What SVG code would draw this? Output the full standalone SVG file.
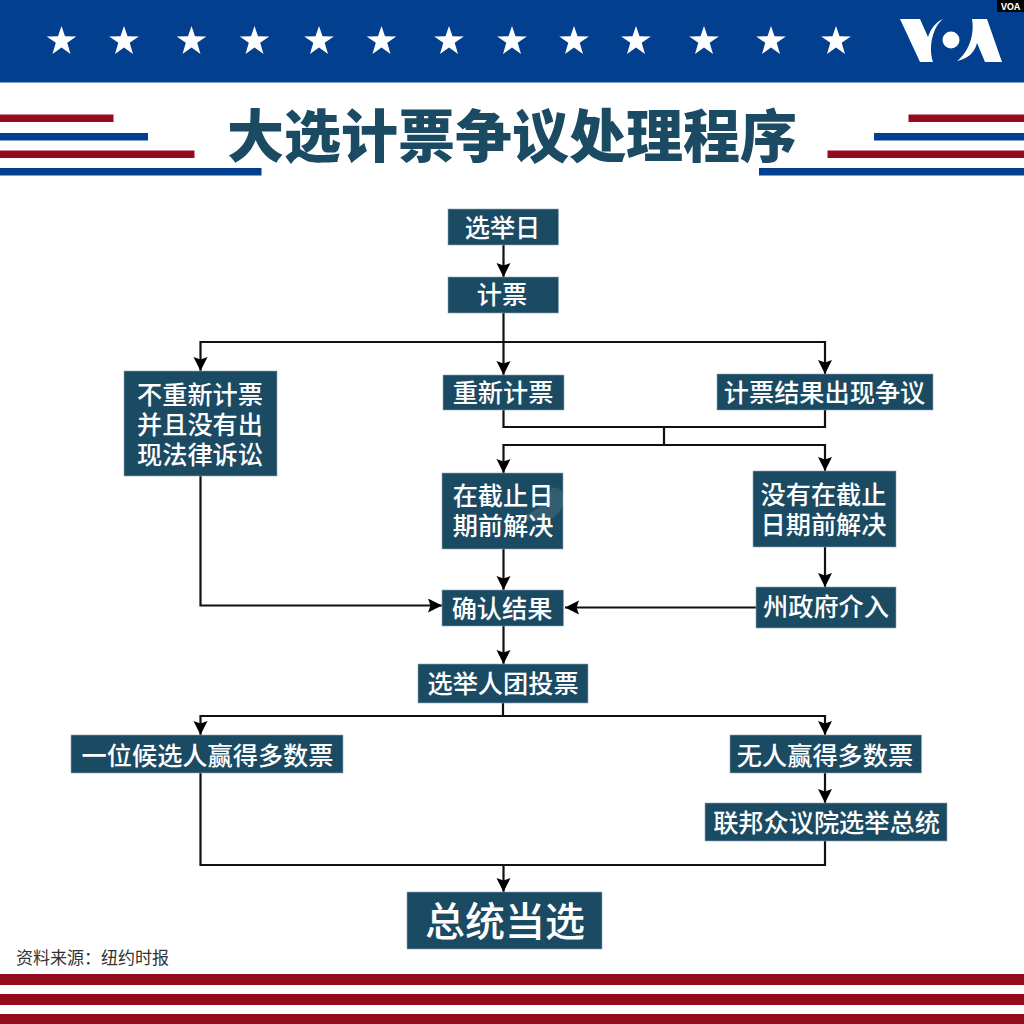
<svg xmlns="http://www.w3.org/2000/svg" width="1024" height="1024" viewBox="0 0 1024 1024">
<style>
text{font-family:"Noto Sans CJK SC","Noto Sans",sans-serif}
.box{fill:#1b4a63;stroke:#8fa9b8;stroke-width:.6}
.lbl{fill:#fff;font-size:25.200px;font-weight:500;text-anchor:middle}
.big{fill:#fff;font-size:40px;font-weight:500;text-anchor:middle}
.title{fill:#1b4a63;font-size:57px;font-weight:900;text-anchor:middle}
.red{fill:#930b1c}
.blue{fill:#023f8e}
.c{fill:none;stroke:#111;stroke-width:2.200}
.star{fill:#fff}
</style>
<defs>
<marker id="a" markerUnits="userSpaceOnUse" markerWidth="16" markerHeight="16" refX="14" refY="7" orient="auto"><path d="M0 0L14 7L0 14L2.500 7Z" fill="#000"/></marker>
<polygon id="s" points="0,-15 3.500,-4.800 14.800,-4.600 5.700,1.800 9,13 0,6.500 -9,13 -5.700,1.800 -14.800,-4.600 -3.500,-4.800"/>
</defs>
<rect width="1024" height="1024" fill="#fff"/>
<g id="header">
<rect class="blue" width="1024" height="82.500"/>
<g class="star">
<use href="#s" x="61.500" y="41"/><use href="#s" x="124" y="41"/><use href="#s" x="191.500" y="41"/><use href="#s" x="254.500" y="41"/><use href="#s" x="319" y="41"/><use href="#s" x="381.500" y="41"/><use href="#s" x="449" y="41"/><use href="#s" x="512" y="41"/><use href="#s" x="574" y="41"/><use href="#s" x="636" y="41"/><use href="#s" x="704" y="41"/><use href="#s" x="771" y="41"/><use href="#s" x="836" y="41"/>
</g>
<g fill="#fff">
<path d="M900 19H920L928 37C931 28 936 22 943 19C933 27 928 46 933 62H920Z"/>
<circle cx="951" cy="40" r="8.500"/>
<path d="M972 19H987L1002 62H985L977 43C975 52 968 59 957 61C968 53 975 35 972 19Z"/>
</g>
<rect x="997" y="0" width="27" height="12" fill="#000"/>
<text x="1010.500" y="9.500" font-size="9.500" font-weight="700" fill="#fff" text-anchor="middle">VOA</text>
</g>
<g id="stripes">
<rect class="red" x="0" y="114.500" width="113.500" height="7.500"/>
<rect class="blue" x="0" y="133" width="148" height="7.500"/>
<rect class="red" x="0" y="150.500" width="194.500" height="7.500"/>
<rect class="blue" x="0" y="168" width="261.500" height="7.500"/>
<rect class="red" x="908.500" y="114.500" width="115.500" height="7.500"/>
<rect class="blue" x="874" y="133" width="150" height="7.500"/>
<rect class="red" x="827.500" y="150.500" width="196.500" height="7.500"/>
<rect class="blue" x="759" y="168" width="265" height="7.500"/>
<rect class="red" x="0" y="974" width="1024" height="11"/>
<rect class="red" x="0" y="994" width="1024" height="11"/>
<rect class="red" x="0" y="1014" width="1024" height="10"/>
</g>
<text id="title" class="title" x="512" y="157">大选计票争议处理程序</text>
<g id="connectors">
<path class="c" marker-end="url(#a)" d="M503.500 245V277"/>
<path class="c" marker-end="url(#a)" d="M503.500 313V375"/>
<path class="c" marker-end="url(#a)" d="M503.500 342H200.500V371"/>
<path class="c" marker-end="url(#a)" d="M503.500 342H825V374"/>
<path class="c" d="M503.500 410V427H825V410M664 427V445"/>
<path class="c" marker-end="url(#a)" d="M664 445H503.500V473"/>
<path class="c" marker-end="url(#a)" d="M664 445H825V471"/>
<path class="c" marker-end="url(#a)" d="M503.500 549V590"/>
<path class="c" marker-end="url(#a)" d="M825 547V587"/>
<path class="c" marker-end="url(#a)" d="M756 607.500H565"/>
<path class="c" marker-end="url(#a)" d="M200.500 476V605.500H442"/>
<path class="c" marker-end="url(#a)" d="M503.500 626V664"/>
<path class="c" d="M503 703V716"/>
<path class="c" marker-end="url(#a)" d="M503 716H200.500V735"/>
<path class="c" marker-end="url(#a)" d="M503 716H825V735"/>
<path class="c" marker-end="url(#a)" d="M825 773V803"/>
<path class="c" d="M200.500 773V865H825V841"/>
<path class="c" marker-end="url(#a)" d="M503.500 865V892"/>
</g>
<g id="n1"><rect class="box" x="448" y="209" width="110.500" height="36"/><text class="lbl" x="502.500" y="237">选举日</text></g>
<g id="n2"><rect class="box" x="448" y="277" width="110.500" height="36"/><text class="lbl" x="502" y="304">计票</text></g>
<g id="n3"><rect class="box" x="124" y="371" width="153" height="105"/><text class="lbl" x="200" y="404">不重新计票</text><text class="lbl" x="200" y="434">并且没有出</text><text class="lbl" x="200" y="464">现法律诉讼</text></g>
<g id="n4"><rect class="box" x="443" y="375" width="121" height="35"/><text class="lbl" x="503" y="402">重新计票</text></g>
<g id="n5"><rect class="box" x="717" y="374" width="216" height="36"/><text class="lbl" x="824.500" y="402">计票结果出现争议</text></g>
<g id="n6"><rect class="box" x="442" y="473" width="121" height="76"/><path d="M520 517C540 510 552 498 551 488C562 485 568 497 561 510C552 524 532 524 520 517Z" fill="#fff" opacity=".1"/><text class="lbl" x="503" y="505">在截止日</text><text class="lbl" x="503" y="535">期前解决</text></g>
<g id="n7"><rect class="box" x="753" y="471" width="143" height="76"/><text class="lbl" x="823.500" y="504">没有在截止</text><text class="lbl" x="823.500" y="534">日期前解决</text></g>
<g id="n8"><rect class="box" x="442" y="590" width="121.500" height="36"/><text class="lbl" x="502" y="618">确认结果</text></g>
<g id="n9"><rect class="box" x="756" y="587" width="140" height="41"/><text class="lbl" x="826" y="616">州政府介入</text></g>
<g id="n10"><rect class="box" x="418" y="664" width="170" height="39"/><text class="lbl" x="503" y="693">选举人团投票</text></g>
<g id="n11"><rect class="box" x="71" y="735" width="272" height="38"/><text class="lbl" x="207.500" y="765">一位候选人赢得多数票</text></g>
<g id="n12"><rect class="box" x="730" y="735" width="191.500" height="38"/><text class="lbl" x="825" y="765">无人赢得多数票</text></g>
<g id="n13"><rect class="box" x="705" y="803" width="242" height="38"/><text class="lbl" x="826.500" y="832">联邦众议院选举总统</text></g>
<g id="n14"><rect class="box" x="407" y="892" width="195" height="57"/><text class="big" x="505" y="936">总统当选</text></g>
<text id="source" x="16" y="964" font-size="17px" fill="#333">资料来源：纽约时报</text>
</svg>
